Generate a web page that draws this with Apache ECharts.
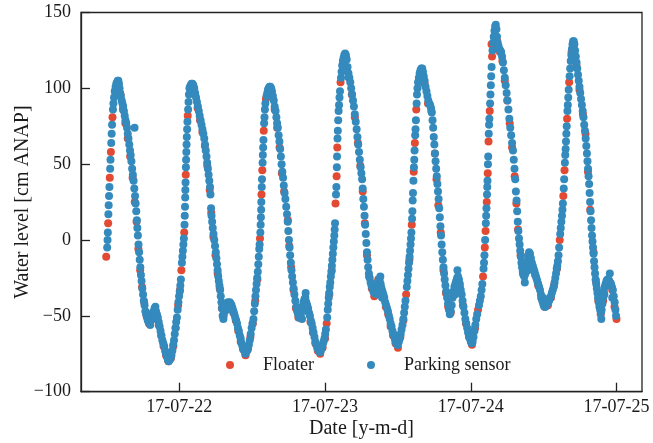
<!DOCTYPE html>
<html><head><meta charset="utf-8">
<script src="https://cdn.jsdelivr.net/npm/echarts@6/dist/echarts.min.js"></script>
<style>html,body{margin:0;padding:0;background:#fff}#c{width:653px;height:443px}</style>
</head><body><div id="c"></div>
<script>
const seriesNames = ['Floater', 'Parking sensor'];
const xTickLabels = ['17-07-22', '17-07-23', '17-07-24', '17-07-25'];
const yTicks = [-100, -50, 0, 50, 100, 150];
// [hours since 2017-07-21 00:00, water level cm ANAP]
const floater = [
[11.95,-11],[12.27,11],[12.54,41],[12.72,58],[12.99,81],[13.4,98],[13.9,102],
[14.3,96],[14.7,86],[15.1,77],[15.5,67],[15.9,55],[16.3,41],[16.65,25],[16.95,12],[17.25,-6],[17.55,-20],[17.85,-31],[18.2,-41],[18.6,-50],[19.0,-55],[19.4,-52],[19.8,-49],[20.2,-49],[20.6,-56],[21.0,-63],[21.4,-70],[21.8,-76],[22.2,-80],
[22.6,-78],[23.0,-70],[23.4,-58],[23.8,-43],[24.1,-33],[24.33,-20],[24.8,5],[25.05,43],[25.38,82],[25.8,100],[26.2,101],
[26.6,96],[27.0,87],[27.4,79],[27.8,71],[28.2,62],[28.6,49],[29.0,33],[29.25,18],[29.6,2],[29.95,-10],[30.3,-22],[30.65,-32],[31.0,-45],[31.3,-50],[31.7,-45],[32.1,-42],[32.5,-43],[32.9,-48],[33.3,-53],[33.7,-60],[34.1,-67],[34.5,-72],[34.9,-76],
[35.3,-72],[35.7,-64],[36.1,-55],[36.5,-40],[36.85,-26],[37.28,1],[37.53,30],[37.66,46],[37.9,72],[38.26,93],[38.8,99],
[39.3,95],[39.7,86],[40.1,74],[40.5,61],[40.88,44],[41.25,32],[41.87,13],[42.1,-4],[42.41,-18],[42.8,-33],[43.2,-45],[43.6,-51],[44.0,-51],[44.4,-43],[44.8,-41],[45.2,-47],[45.6,-54],[46.0,-61],[46.4,-68],[46.8,-73],[47.2,-75],
[47.6,-71],[48.0,-65],[48.26,-55],[48.7,-36],[49.1,-20],[49.72,24],[49.9,42],[50.01,61],[50.55,104],[51.0,117],[51.4,121],
[51.9,107],[52.4,96],[52.9,81],[53.4,64],[53.8,49],[54.2,32],[54.55,11],[54.9,-10],[55.25,-24],[55.7,-32],[56.1,-37],[56.5,-32],[56.76,-26],[57.2,-31],[57.6,-37],[58.0,-44],[58.4,-49],[58.8,-57],[59.2,-63],[59.6,-68],[60.0,-71],
[60.4,-64],[60.9,-53],[61.35,-36],[61.9,-13],[62.28,10],[62.6,45],[62.79,64],[63.02,86],[63.5,106],[63.9,111],
[64.4,103],[64.95,90],[65.5,85],[66.08,57],[66.35,40],[66.65,23],[67.05,5],[67.5,-20],[67.9,-35],[68.27,-44],[68.7,-48],[69.2,-36],[69.7,-27],[70.2,-31],[70.7,-43],[71.2,-55],[71.7,-64],[72.2,-69],
[72.7,-58],[73.2,-46],[74.02,-24],[74.31,-5],[74.43,6],[74.63,25],[74.79,44],[74.92,65],[75.12,85],[75.42,129],[75.5,121],[75.95,134],[76.35,131],[76.8,124],
[77.2,118],[77.6,105],[78.0,92],[78.41,77],[78.8,61],[79.23,42],[79.51,24],[79.78,7],[80.2,-10],[80.6,-22],[81.1,-20],[81.6,-11],[82.1,-17],[82.6,-23],[83.1,-30],[83.6,-38],[84.16,-44],
[84.7,-43],[85.2,-38],[85.7,-30],[86.2,-19],[86.65,0],[87.24,29],[87.44,46],[87.86,80],[88.2,104],[88.6,124],[88.95,128],
[89.4,115],[89.9,99],[90.47,83],[90.9,70],[91.3,45],[91.67,20],[92.22,-8],[92.6,-27],[93.0,-40],[93.4,-49],[93.8,-40],[94.3,-30],[94.8,-27],[95.3,-33],[95.67,-44],[96.0,-52]
];
const parking = [
[12.11,-5],[12.17,0],[12.22,5],[12.31,17],[12.36,23],[12.42,29],[12.48,35],[12.6,47],[12.66,53],[12.78,64],[12.85,70],[12.92,76],[13.06,86],[13.14,90],[13.24,94],[13.36,98],[13.5,101],[13.62,103],[13.74,104],[13.85,105],[13.95,105],
[14.05,103],[14.15,100],[14.25,97],[14.37,95],[14.5,92],[14.62,90],[14.74,88],[14.87,85],[15.0,82],[15.12,79],[15.25,77],[15.38,74],[15.5,70],[15.62,67],[15.75,63],[15.87,59],[15.98,56],[16.1,52],[16.22,47],[16.34,43],[16.46,39],[16.58,34],[16.62,74],[16.7,29],[16.8,24],[16.9,19],[17.0,13],[17.08,8],[17.17,3],[17.27,-3],[17.37,-8],[17.47,-13],[17.57,-18],[17.67,-23],[17.78,-27],[17.9,-32],[18.02,-36],[18.14,-40],[18.27,-43],[18.4,-47],[18.53,-49],[18.67,-51],[18.8,-53],[18.95,-54],[19.1,-53],[19.2,-56],[19.3,-51],[19.45,-50],[19.6,-48],[19.7,-52],[19.8,-47],[19.92,-45],[20.05,-44],[20.15,-47],[20.3,-49],[20.45,-51],[20.6,-54],[20.75,-57],[20.9,-60],[21.05,-63],[21.2,-66],[21.35,-68],[21.5,-70],[21.65,-73],[21.8,-75],[21.95,-77],[22.1,-79],[22.25,-80],[22.4,-79],
[22.55,-78],[22.7,-76],[22.85,-73],[23.0,-69],[23.12,-66],[23.24,-62],[23.36,-58],[23.48,-54],[23.6,-51],[23.72,-46],[23.84,-41],[23.95,-37],[24.06,-34],[24.16,-30],[24.25,-26],[24.42,-15],[24.5,-11],[24.58,-7],[24.66,-3],[24.74,1],[24.85,10],[24.89,16],[24.93,22],[24.96,28],[24.99,33],[25.02,38],[25.08,48],[25.11,53],[25.15,58],[25.19,63],[25.23,68],[25.28,73],[25.33,78],[25.44,86],[25.51,91],[25.58,96],[25.66,100],[25.76,101],[25.88,102],[26.0,103],[26.15,103],[26.3,102],
[26.45,100],[26.6,97],[26.75,94],[26.9,91],[27.05,88],[27.2,85],[27.35,82],[27.5,79],[27.65,76],[27.8,73],[27.95,70],[28.1,67],[28.22,63],[28.35,59],[28.47,55],[28.58,51],[28.7,47],[28.82,43],[28.93,39],[29.05,35],[29.12,30],[29.22,21],[29.3,16],[29.4,12],[29.5,8],[29.62,4],[29.75,0],[29.87,-4],[30.0,-8],[30.1,-12],[30.2,-16],[30.3,-20],[30.4,-24],[30.5,-27],[30.6,-30],[30.72,-33],[30.82,-37],[30.93,-41],[31.03,-45],[31.13,-50],
[31.25,-52],[31.35,-48],[31.5,-46],[31.65,-44],[31.8,-42],[31.9,-46],[32.0,-41],[32.15,-43],[32.3,-41],[32.45,-42],[32.6,-43],[32.75,-45],[32.9,-47],[33.05,-49],[33.2,-51],[33.35,-53],[33.5,-55],[33.65,-58],[33.8,-60],[33.95,-63],[34.1,-65],[34.25,-68],[34.4,-70],[34.55,-72],[34.7,-73],[34.85,-75],[35.0,-74],[35.15,-73],
[35.3,-71],[35.45,-69],[35.6,-66],[35.75,-62],[35.9,-58],[36.05,-55],[36.2,-52],[36.32,-47],[36.43,-42],[36.53,-37],[36.62,-33],[36.72,-29],[36.82,-25],[36.92,-21],[37.0,-16],[37.08,-11],[37.16,-6],[37.22,-3],[37.34,5],[37.39,10],[37.43,15],[37.47,20],[37.5,25],[37.57,35],[37.61,40],[37.71,51],[37.75,56],[37.8,61],[37.85,66],[37.96,77],[38.02,81],[38.09,86],[38.17,90],[38.36,95],[38.48,97],[38.6,99],[38.72,100],[38.85,101],[38.98,101],
[39.12,100],[39.25,98],[39.4,95],[39.55,92],[39.7,88],[39.85,85],[39.98,81],[40.1,77],[40.22,74],[40.35,69],[40.48,65],[40.6,60],[40.72,55],[40.84,50],[40.96,45],[41.08,41],[41.2,36],[41.33,31],[41.46,27],[41.6,22],[41.73,17],[41.85,12],[41.95,6],[42.05,0],[42.15,-5],[42.25,-10],[42.36,-15],[42.47,-20],[42.58,-24],[42.7,-28],[42.82,-32],[42.95,-36],[43.1,-40],[43.25,-44],[43.4,-47],[43.55,-49],[43.7,-51],
[43.85,-51],[44.0,-50],[44.15,-47],[44.2,-52],[44.3,-44],[44.45,-41],[44.5,-46],[44.6,-39],[44.75,-38],[44.8,-35],[44.9,-41],[45.05,-43],[45.2,-45],[45.35,-48],[45.5,-50],[45.65,-53],[45.8,-55],[45.95,-58],[46.1,-61],[46.25,-64],[46.4,-67],[46.55,-69],[46.7,-71],[46.85,-72],[47.0,-73],[47.15,-74],[47.3,-73],[47.45,-71],
[47.6,-69],[47.75,-67],[47.9,-65],[48.02,-62],[48.14,-59],[48.35,-51],[48.44,-46],[48.52,-42],[48.6,-38],[48.68,-35],[48.77,-31],[48.86,-28],[48.95,-24],[49.04,-21],[49.12,-17],[49.2,-13],[49.28,-9],[49.36,-5],[49.44,-1],[49.52,3],[49.58,7],[49.64,11],[49.8,30],[49.86,35],[49.94,48],[49.97,55],[50.05,67],[50.1,72],[50.16,79],[50.23,85],[50.3,89],[50.38,94],[50.46,98],[50.63,107],[50.72,111],[50.82,115],[50.93,118],[51.05,120],[51.17,122],[51.3,123],[51.42,122],
[51.56,119],[51.7,114],[51.85,110],[52.0,107],[52.15,104],[52.3,100],[52.45,96],[52.6,92],[52.75,88],[52.9,83],[53.05,78],[53.2,73],[53.33,68],[53.46,63],[53.59,58],[53.72,53],[53.85,48],[53.98,44],[54.1,40],[54.2,34],[54.3,27],[54.4,22],[54.5,16],[54.6,10],[54.7,4],[54.8,-2],[54.9,-8],[55.0,-13],[55.1,-18],[55.22,-22],[55.35,-25],[55.5,-28],[55.65,-30],[55.8,-32],[55.95,-34],[56.1,-35],[56.25,-35],[56.4,-34],
[56.55,-31],[56.6,-36],[56.7,-28],[56.85,-26],[56.9,-32],[57.0,-27],[57.1,-24],[57.15,-29],[57.3,-32],[57.4,-38],[57.45,-34],[57.6,-36],[57.75,-38],[57.9,-41],[58.05,-43],[58.2,-45],[58.35,-47],[58.5,-50],[58.65,-52],[58.8,-55],[58.95,-57],[59.1,-60],[59.25,-62],[59.4,-64],[59.55,-66],[59.7,-68],[59.85,-69],[60.0,-69],[60.15,-67],
[60.3,-65],[60.45,-62],[60.6,-59],[60.75,-56],[60.9,-52],[61.02,-48],[61.13,-44],[61.24,-40],[61.46,-31],[61.56,-27],[61.65,-23],[61.74,-19],[61.83,-15],[61.92,-11],[62.0,-7],[62.08,-3],[62.15,1],[62.22,5],[62.33,14],[62.38,19],[62.43,26],[62.48,31],[62.55,39],[62.64,48],[62.69,53],[62.74,59],[62.84,69],[62.9,73],[62.96,79],[63.08,90],[63.14,96],[63.22,100],[63.32,104],[63.45,107],[63.58,110],[63.72,112],[63.86,113],[64.0,113],
[64.12,111],[64.25,108],[64.4,105],[64.55,101],[64.7,98],[64.85,95],[65.0,92],[65.15,90],[65.3,89],[65.45,87],[65.58,84],[65.7,79],[65.8,74],[65.9,68],[66.0,63],[66.1,57],[66.2,52],[66.3,47],[66.4,42],[66.5,37],[66.6,32],[66.7,27],[66.8,21],[66.9,15],[67.0,9],[67.1,3],[67.2,-3],[67.3,-8],[67.4,-13],[67.5,-18],[67.6,-22],[67.7,-26],[67.82,-30],[67.95,-34],[68.1,-38],[68.25,-42],[68.4,-46],[68.55,-49],
[68.7,-47],[68.85,-43],[69.0,-38],[69.15,-34],[69.3,-31],[69.4,-36],[69.45,-29],[69.6,-27],[69.75,-25],[69.8,-20],[69.9,-24],[70.0,-31],[70.05,-26],[70.2,-29],[70.35,-33],[70.5,-36],[70.65,-40],[70.8,-44],[70.95,-48],[71.1,-52],[71.25,-55],[71.4,-58],[71.55,-61],[71.7,-63],[71.85,-65],[72.0,-67],[72.15,-68],[72.3,-67],
[72.45,-64],[72.6,-60],[72.75,-56],[72.9,-52],[73.05,-49],[73.35,-43],[73.5,-40],[73.65,-37],[73.78,-33],[73.9,-29],[74.1,-19],[74.18,-15],[74.25,-10],[74.36,0],[74.48,11],[74.53,16],[74.58,21],[74.67,30],[74.71,35],[74.75,39],[74.83,50],[74.87,55],[74.96,70],[75.01,76],[75.06,80],[75.18,90],[75.24,96],[75.3,102],[75.36,108],[75.43,114],[75.58,125],[75.67,130],[75.78,134],[75.9,138],[76.02,141],[76.12,142],[76.22,139],[76.32,134],[76.42,130],[76.55,128],[76.7,126],[76.85,125],[77.0,124],
[77.15,121],[77.3,117],[77.45,112],[77.6,107],[77.75,102],[77.9,97],[78.05,92],[78.2,86],[78.35,80],[78.5,74],[78.65,69],[78.8,64],[78.95,59],[79.08,53],[79.2,47],[79.32,40],[79.43,32],[79.54,26],[79.64,19],[79.74,12],[79.84,6],[79.94,1],[80.04,-3],[80.14,-7],[80.24,-11],[80.34,-15],[80.44,-18],[80.56,-21],[80.68,-23],[80.82,-24],[80.9,-28],[81.0,-22],[81.15,-18],[81.3,-14],[81.4,-20],[81.45,-10],[81.6,-8],[81.75,-9],[81.9,-12],[82.05,-15],[82.2,-17],[82.35,-19],[82.5,-21],[82.65,-23],[82.8,-25],[82.95,-27],[83.1,-29],[83.25,-31],[83.4,-33],[83.55,-36],[83.7,-39],[83.85,-41],[83.9,-38],[84.0,-43],[84.15,-44],[84.2,-40],[84.3,-44],
[84.45,-43],[84.6,-42],[84.75,-41],[84.9,-40],[85.05,-38],[85.2,-37],[85.35,-35],[85.5,-33],[85.65,-31],[85.8,-28],[85.92,-25],[86.04,-22],[86.15,-19],[86.25,-17],[86.35,-14],[86.45,-10],[86.55,-5],[86.73,4],[86.82,8],[86.92,12],[87.02,16],[87.1,20],[87.17,24],[87.31,34],[87.38,40],[87.5,51],[87.56,56],[87.62,60],[87.68,65],[87.74,70],[87.8,75],[87.92,85],[87.98,89],[88.05,94],[88.12,99],[88.28,108],[88.37,113],[88.46,118],[88.56,122],[88.66,126],[88.76,129],[88.86,131],[88.96,131],
[89.06,129],[89.18,125],[89.3,121],[89.42,117],[89.54,113],[89.66,109],[89.78,105],[89.9,101],[90.03,97],[90.16,93],[90.3,89],[90.43,85],[90.56,81],[90.68,76],[90.8,72],[90.92,67],[91.03,62],[91.13,57],[91.22,52],[91.31,47],[91.4,42],[91.49,37],[91.57,31],[91.65,25],[91.73,19],[91.81,13],[91.89,8],[91.97,3],[92.05,-1],[92.13,-5],[92.22,-9],[92.3,-14],[92.38,-18],[92.47,-22],[92.56,-26],[92.66,-29],[92.76,-32],[92.86,-35],[92.96,-38],[93.07,-41],[93.18,-44],[93.3,-46],[93.42,-48],[93.5,-52],[93.55,-46],[93.68,-42],[93.8,-38],[93.92,-34],[94.0,-36],[94.05,-31],[94.2,-29],[94.35,-27],[94.5,-26],[94.65,-26],[94.8,-27],[94.9,-22],[94.95,-28],[95.1,-29],[95.25,-31],[95.3,-38],[95.4,-33],[95.55,-37],[95.7,-41],[95.82,-46],[95.92,-50]
];

const T0 = Date.UTC(2017, 6, 21);
const HOUR = 3600000;
const toPts = a => a.map(p => [T0 + p[0] * HOUR, p[1]]);
const tickVals = xTickLabels.map(s => Date.UTC(2000 + Number(s.slice(0, 2)), Number(s.slice(3, 5)) - 1, Number(s.slice(6, 8))));
const FONT = 'Liberation Serif';
const TXT = '#1a1a1a';

const chart = echarts.init(document.getElementById('c'), null, {renderer: 'canvas'});
chart.setOption({
  animation: false,
  backgroundColor: '#fff',
  textStyle: {fontFamily: FONT},
  grid: {left: 81, right: 11, top: 12.5, bottom: 51.3, containLabel: false, outerBoundsMode: 'none',
         show: true, borderColor: '#222', borderWidth: 1.3, backgroundColor: 'transparent'},
  legend: {
    data: seriesNames,
    left: 221, top: 351,
    icon: 'circle', itemWidth: 8, itemHeight: 8, itemGap: 53,
    textStyle: {fontFamily: FONT, fontSize: 18, color: TXT, padding: [0, 0, 0, 24]}
  },
  xAxis: {
    type: 'value',
    min: T0 + 7.8 * HOUR, max: T0 + 100.2 * HOUR,
    name: 'Date [y-m-d]', nameLocation: 'middle', nameGap: 27, nameMoveOverlap: false,
    nameTextStyle: {fontFamily: FONT, fontSize: 20, color: TXT},
    axisLine: {show: true, onZero: false, lineStyle: {color: '#222', width: 1.3}},
    axisTick: {show: true, inside: true, length: 9, customValues: tickVals, lineStyle: {color: '#222', width: 1.3}},
    axisLabel: {customValues: tickVals, margin: 7, fontFamily: FONT, fontSize: 18, color: TXT,
      formatter: v => { const i = tickVals.indexOf(v); return i >= 0 ? xTickLabels[i] : ''; }},
    splitLine: {show: false}
  },
  yAxis: {
    type: 'value', min: yTicks[0], max: yTicks[yTicks.length - 1], interval: 50,
    name: 'Water level [cm ANAP]', nameLocation: 'middle', nameGap: 48, nameRotate: 90, nameMoveOverlap: false,
    nameTextStyle: {fontFamily: FONT, fontSize: 20, color: TXT},
    axisLine: {show: true, onZero: false, lineStyle: {color: '#222', width: 1.3}},
    axisTick: {show: true, inside: true, length: 9, lineStyle: {color: '#222', width: 1.3}},
    axisLabel: {margin: 10, fontFamily: FONT, fontSize: 18, color: TXT,
      formatter: v => String(v).replace('-', '\u2212')},
    splitLine: {show: false}
  },
  series: [
    {name: seriesNames[0], type: 'scatter', data: toPts(floater), symbolSize: 8,
     itemStyle: {color: '#E24A33', opacity: 1}, emphasis: {disabled: true}, z: 2},
    {name: seriesNames[1], type: 'scatter', data: toPts(parking), symbolSize: 8,
     itemStyle: {color: '#348ABD', opacity: 1}, emphasis: {disabled: true}, z: 3}
  ]
});
</script>
</body></html>
